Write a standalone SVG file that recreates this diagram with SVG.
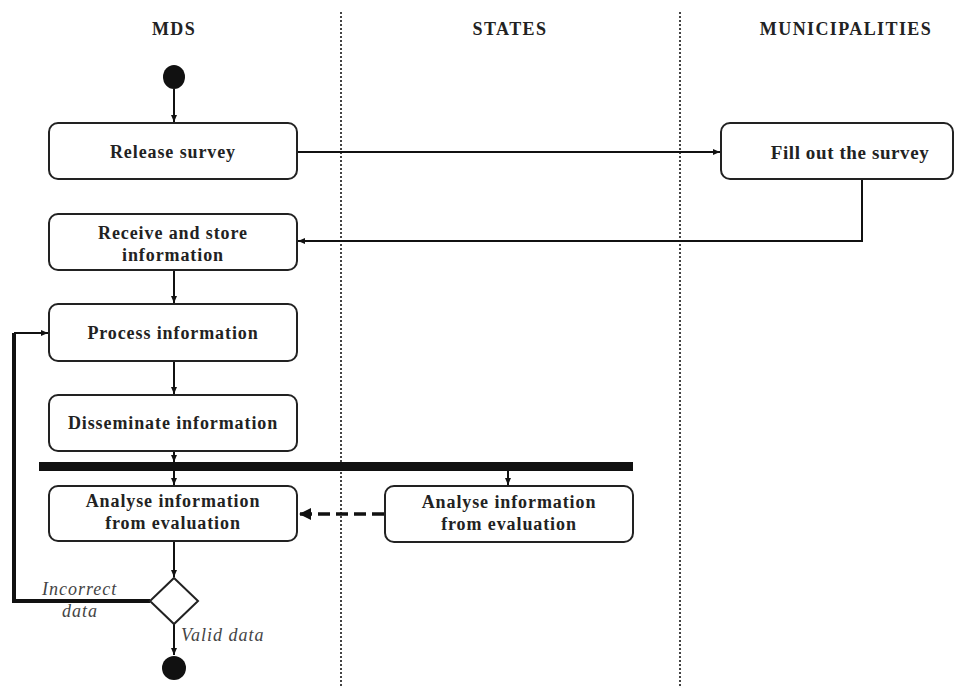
<svg xmlns="http://www.w3.org/2000/svg" width="955" height="686" viewBox="0 0 955 686">
<style>
.box{fill:#fff;stroke:#222;stroke-width:2}
.t{font-family:"Liberation Serif",serif;font-weight:bold;font-size:18px;letter-spacing:0.9px;fill:#222;text-anchor:middle}
.h{font-family:"Liberation Serif",serif;font-weight:bold;font-size:18px;letter-spacing:1.4px;fill:#222;text-anchor:middle}
.lab{font-family:"Liberation Serif",serif;font-style:italic;font-size:18px;letter-spacing:1px;fill:#444}
.ln{fill:none;stroke:#111;stroke-width:2}
.div{stroke:#444;stroke-width:2;stroke-dasharray:2 2}
</style>
<defs>
<marker id="a" markerWidth="8" markerHeight="8" refX="7" refY="4" orient="auto" markerUnits="userSpaceOnUse">
<path d="M0,1 L7,4 L0,7 z" fill="#111"/>
</marker>
<marker id="big" markerWidth="14" markerHeight="14" refX="12" refY="7" orient="auto" markerUnits="userSpaceOnUse">
<path d="M0,1 L12,7 L0,13 z" fill="#111"/>
</marker>
</defs>
<rect width="955" height="686" fill="#fff"/>
<g id="lanes">
<line class="div" x1="341" y1="12" x2="341" y2="686"/>
<line class="div" x1="680" y1="12" x2="680" y2="686"/>
<text class="h" x="174" y="35">MDS</text>
<text class="h" x="510" y="35">STATES</text>
<text class="h" x="846" y="35">MUNICIPALITIES</text>
</g>
<g id="connectors">
<line class="ln" x1="174" y1="89" x2="174" y2="122" marker-end="url(#a)"/>
<line class="ln" x1="297" y1="152" x2="720" y2="152" marker-end="url(#a)"/>
<polyline class="ln" points="862,179 862,241 298,241" marker-end="url(#a)"/>
<line class="ln" x1="174" y1="270" x2="174" y2="303" marker-end="url(#a)"/>
<line class="ln" x1="174" y1="361" x2="174" y2="394" marker-end="url(#a)"/>
<line class="ln" x1="174" y1="451" x2="174" y2="462" marker-end="url(#a)"/>
<line class="ln" x1="174" y1="471" x2="174" y2="485" marker-end="url(#a)"/>
<line class="ln" x1="508" y1="471" x2="508" y2="485" marker-end="url(#a)"/>
<line x1="384" y1="514" x2="299" y2="514" stroke="#111" stroke-width="3.5" stroke-dasharray="12 6" marker-end="url(#big)"/>
<line class="ln" x1="174" y1="541" x2="174" y2="577" marker-end="url(#a)"/>
<polyline fill="none" stroke="#111" stroke-width="4" points="150,601 14,601 14,333"/>
<line class="ln" x1="14" y1="333" x2="48" y2="333" marker-end="url(#a)"/>
<line class="ln" x1="174" y1="624" x2="174" y2="655" marker-end="url(#a)"/>
</g>
<g id="start"><ellipse cx="174" cy="77" rx="11" ry="12" fill="#111"/></g>
<g id="release"><rect class="box" x="49" y="123" width="248" height="56" rx="9"/><text class="t" x="173" y="158">Release survey</text></g>
<g id="fill"><rect class="box" x="721" y="123" width="232" height="56" rx="9"/><text class="t" x="850" y="159" style="font-size:19px;letter-spacing:0.6px">Fill out the survey</text></g>
<g id="receive"><rect class="box" x="49" y="214" width="248" height="56" rx="9"/><text class="t" x="173" y="239">Receive and store</text><text class="t" x="173" y="261">information</text></g>
<g id="process"><rect class="box" x="49" y="304" width="248" height="57" rx="9"/><text class="t" x="173" y="339">Process information</text></g>
<g id="disseminate"><rect class="box" x="49" y="395" width="248" height="56" rx="9"/><text class="t" x="173" y="429">Disseminate information</text></g>
<g id="fork"><rect x="39" y="462" width="594" height="9" fill="#111"/></g>
<g id="analyseMDS"><rect class="box" x="49" y="486" width="248" height="55" rx="9"/><text class="t" x="173" y="507">Analyse information</text><text class="t" x="173" y="529">from evaluation</text></g>
<g id="analyseStates"><rect class="box" x="385" y="486" width="248" height="56" rx="9"/><text class="t" x="509" y="508">Analyse information</text><text class="t" x="509" y="530">from evaluation</text></g>
<g id="decision"><polygon points="174,578 198,601 174,624 150,601" fill="#fff" stroke="#222" stroke-width="2"/>
<text class="lab" x="42" y="595">Incorrect</text><text class="lab" x="62" y="617">data</text>
<text class="lab" x="181" y="641">Valid data</text></g>
<g id="end"><ellipse cx="174" cy="668" rx="12" ry="12" fill="#111"/></g>
</svg>
